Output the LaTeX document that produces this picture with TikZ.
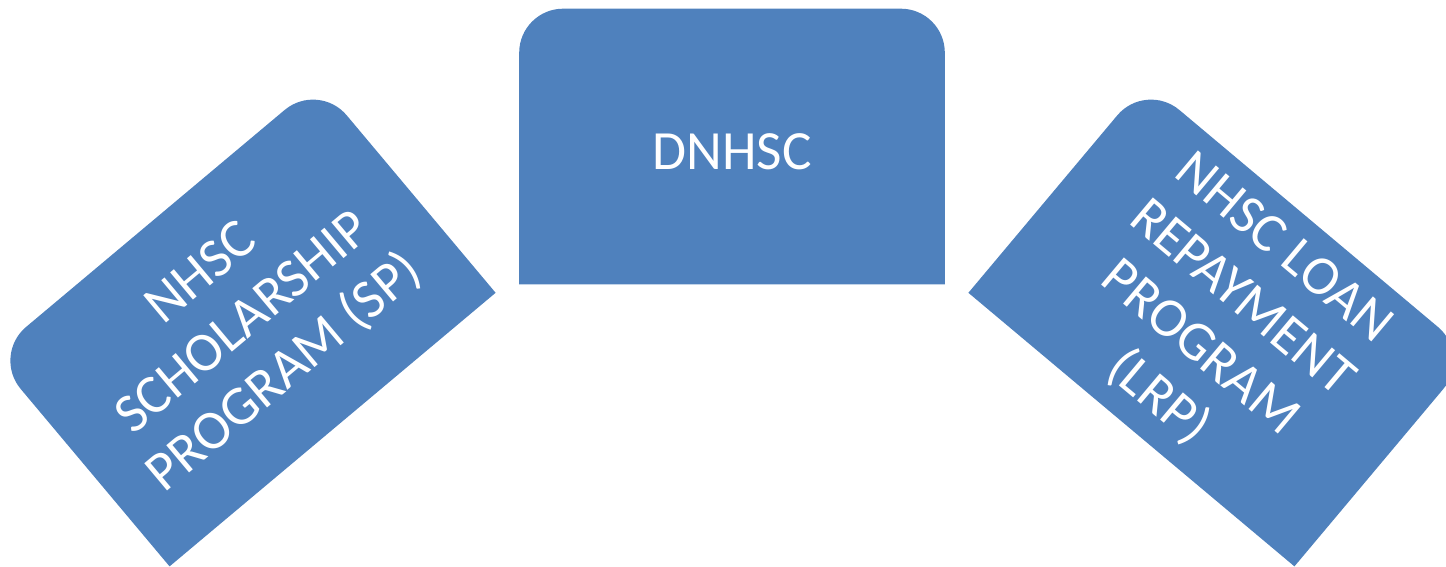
\documentclass[tikz,border=0pt]{standalone}
\usepackage{fontspec}
\setmainfont{Carlito}
\usetikzlibrary{backgrounds}

\definecolor{panelblue}{RGB}{79,129,189}

\tikzset{
	panel/.style={minimum width=8.5cm, minimum height=5.5cm, inner sep=0pt,
		align=center, text=white, font=\fontsize{31.5}{37}\selectfont},
}
% fill a panel node, only its top corners rounded
\newcommand{\tabfill}[1]{
	\fill [panelblue] (#1.south west) [rounded corners=0.88cm] -- (#1.north west)
		-- (#1.north east) [sharp corners] -- (#1.south east) -- cycle;
}

\begin{document}
\begin{tikzpicture}[x=0.02cm, y=-0.02cm]
	\useasboundingbox (0,0) rectangle (1446,566);
	\clip (0,0) rectangle (1446,566);
	\node [panel, rotate=40] (sp) at (244,324)
		{NHSC\\SCHOLARSHIP\\PROGRAM (SP)};
	\node [panel, text height=0.94cm] (dnhsc) at (732,146.5)
		{DNHSC};
	\node [panel, rotate=-40] (lrp) at (1220,324)
		{NHSC LOAN\\REPAYMENT\\PROGRAM\\(LRP)};
	\begin{scope}[on background layer]
		\tabfill{sp}
		\tabfill{dnhsc}
		\tabfill{lrp}
	\end{scope}
\end{tikzpicture}
\end{document}
